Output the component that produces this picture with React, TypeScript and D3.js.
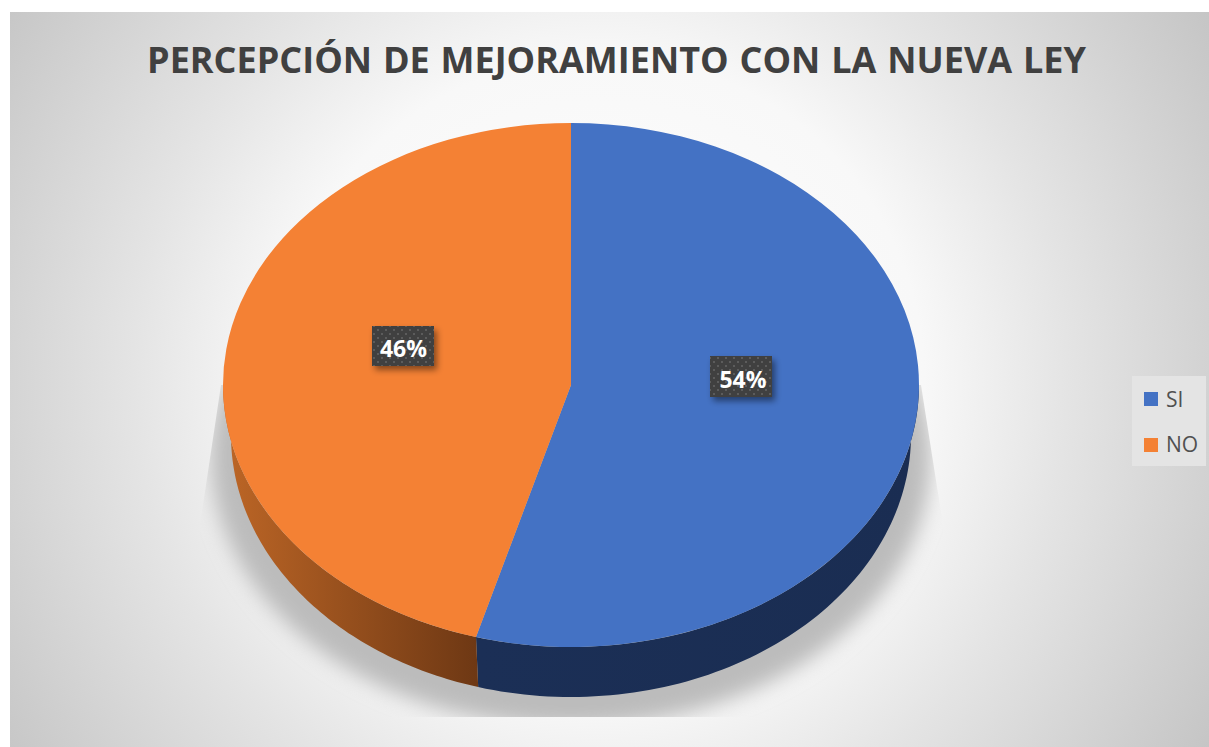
import React from "react";
import * as d3 from "d3";

const categories = ["SI", "NO"];
const values = [54.4, 45.6];
const colors = ["#4472C4", "#F48134"];
const chartTitle = "PERCEPCIÓN DE MEJORAMIENTO CON LA NUEVA LEY";

const W = 1209, H = 747;
const cx = 571, cy = 385, rx = 348, ry = 262, depth = 50, rxBottom = 340;

export default function App() {
  const arcs = d3.pie<number>().sort(null)(values);
  const arc = d3.arc<d3.PieArcDatum<number>>().innerRadius(0).outerRadius(rx);
  const walls = arcs.map((d) => {
    const a0 = Math.max(d.startAngle, Math.PI / 2);
    const a1 = Math.min(d.endAngle, (3 * Math.PI) / 2);
    const angles = d3.range(0, 81).map((i) => a0 + ((a1 - a0) * i) / 80);
    const top = angles.map((a) => [cx + rx * Math.sin(a), cy - ry * Math.cos(a)] as [number, number]);
    const bot = angles
      .map((a) => [cx + rxBottom * Math.sin(a), cy + depth - ry * Math.cos(a)] as [number, number])
      .reverse();
    return d3.line()([...top, ...bot])! + "Z";
  });
  const boxPos = [
    [710, 356],
    [372, 326],
  ];
  const textPos = [
    [743, 388],
    [403.5, 357],
  ];
  return (
    <svg width={W} height={H} style={{ position: "fixed", left: 0, top: 0, background: "#fff" }}>
      <defs>
        <radialGradient id="bg" gradientUnits="userSpaceOnUse" cx={600} cy={380} r={720}>
          <stop offset="0" stopColor="#ffffff" />
          <stop offset="0.45" stopColor="#f8f8f8" />
          <stop offset="0.65" stopColor="#e4e4e4" />
          <stop offset="1" stopColor="#c4c4c4" />
        </radialGradient>
        <linearGradient id="wall0" gradientUnits="userSpaceOnUse" x1={477} x2={919} y1={0} y2={0}>
          <stop offset="0" stopColor="#1b2f56" />
          <stop offset="1" stopColor="#1a2d52" />
        </linearGradient>
        <linearGradient id="wall1" gradientUnits="userSpaceOnUse" x1={223} x2={477} y1={0} y2={0}>
          <stop offset="0" stopColor="#bd6626" />
          <stop offset="1" stopColor="#6e3814" />
        </linearGradient>
        <filter id="blur" x="-20%" y="-20%" width="140%" height="140%">
          <feGaussianBlur stdDeviation="10" />
        </filter>
        <clipPath id="shadowClip">
          <path d={d3.line()([[221, cy], [200, 525], [200, 717], [943, 717], [943, 525], [921, cy]])! + "Z"} />
        </clipPath>
        <filter id="ds" x="-30%" y="-30%" width="160%" height="170%">
          <feDropShadow dx="3" dy="4" stdDeviation="3" floodColor="#000" floodOpacity="0.45" />
        </filter>
        <pattern id="dots" width="8" height="8" patternUnits="userSpaceOnUse" x={0} y={0}>
          <rect width="8" height="8" fill="#404040" />
          <rect x="1" y="1" width="2" height="2" fill="#5c5c5c" />
          <rect x="5" y="5" width="2" height="2" fill="#5c5c5c" />
        </pattern>
      </defs>
      <rect x={10} y={12} width={W - 10} height={H - 12} fill="url(#bg)" />
      <g clipPath="url(#shadowClip)">
        <g filter="url(#blur)">
          <ellipse cx={cx} cy={cy + 72} rx={rx + 12} ry={ry + 8} fill="#bcbcbc" />
        </g>
      </g>
      <text x={616.5} y={73} textAnchor="middle" fontFamily="'Open Sans', sans-serif" fontWeight={700} fontSize={36} wordSpacing={1.5} fill="#404040">
        {chartTitle}
      </text>
      {walls.map((d, i) => (
        <path key={i} d={d} fill={`url(#wall${i})`} />
      ))}
      <g transform={`translate(${cx},${cy}) scale(1,${ry / rx})`}>
        {arcs.map((d, i) => (
          <path key={i} d={arc(d)!} fill={colors[i]} />
        ))}
      </g>
      {arcs.map((d, i) => (
        <g key={i}>
          <rect x={boxPos[i][0]} y={boxPos[i][1]} width={62} height={i === 0 ? 41 : 40} fill="url(#dots)" filter="url(#ds)" />
          <text x={textPos[i][0]} y={textPos[i][1]} textAnchor="middle" fontFamily="'Open Sans', sans-serif" fontWeight={700} fontSize={23} fill="#fff">
            {Math.round(d.data)}%
          </text>
        </g>
      ))}
      <rect x={1132} y={376} width={74} height={90} fill="#e4e4e4" />
      {categories.map((c, i) => (
        <g key={c}>
          <rect x={1144} y={392 + i * 46} width={14} height={14} fill={colors[i]} />
          <text x={1166} y={407 + i * 45} fontFamily="'Open Sans', sans-serif" fontSize={21} fill="#505050">
            {c}
          </text>
        </g>
      ))}
    </svg>
  );
}
